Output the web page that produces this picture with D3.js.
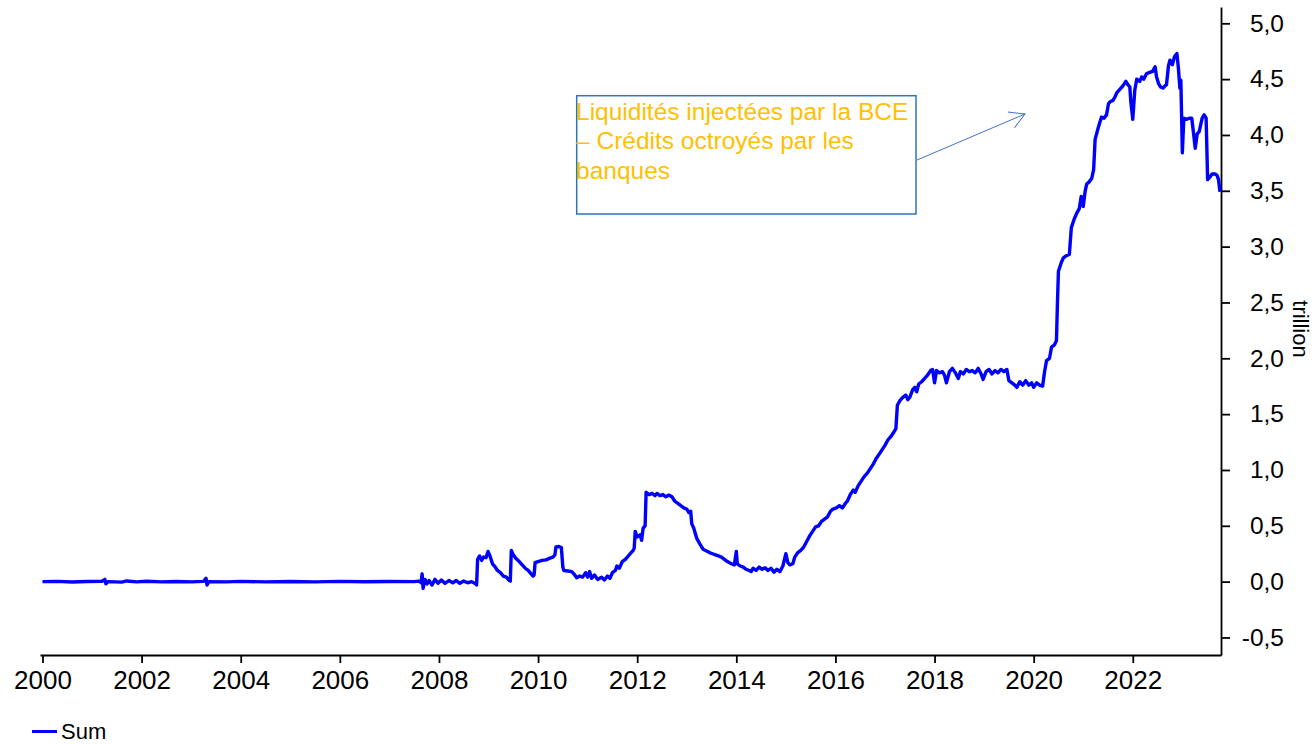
<!DOCTYPE html>
<html>
<head>
<meta charset="utf-8">
<script src="https://cdn.jsdelivr.net/npm/d3@7"></script>
<style>
  body { margin: 0; background: #fff; }
  svg { display: block; font-family: "Liberation Sans", Arial, sans-serif; }
</style>
</head>
<body>
<div id="chart"></div>
<script>
// Sum, trillion as [decimal year, value]
const sumSeries = [
  [2000.00, 0.000], [2000.30, 0.002], [2000.60, -0.003], [2000.90, 0.001],
  [2001.20, 0.003], [2001.26, 0.020], [2001.28, -0.020], [2001.32, 0.000],
  [2001.60, -0.004], [2001.70, 0.006], [2001.90, -0.002], [2002.10, 0.004],
  [2002.40, -0.002], [2002.70, 0.001], [2003.00, -0.002], [2003.25, 0.002],
  [2003.30, 0.030], [2003.32, -0.030], [2003.36, 0.000], [2003.70, -0.002],
  [2004.00, 0.002], [2004.50, -0.002], [2005.00, 0.001], [2005.50, -0.002],
  [2006.00, 0.002], [2006.50, -0.001], [2007.00, 0.001], [2007.50, 0.000],
  [2007.60, 0.005], [2007.64, -0.010], [2007.66, 0.070], [2007.68, -0.060],
  [2007.72, 0.020], [2007.76, -0.020], [2007.80, 0.010], [2007.86, -0.030],
  [2007.92, 0.020], [2007.98, -0.015], [2008.05, 0.015], [2008.12, -0.015],
  [2008.20, 0.010], [2008.28, -0.010], [2008.35, 0.010], [2008.42, -0.015],
  [2008.50, 0.005], [2008.58, -0.010], [2008.66, 0.000], [2008.74, -0.020],
  [2008.76, -0.030], [2008.78, 0.200], [2008.82, 0.230], [2008.86, 0.190],
  [2008.90, 0.220], [2008.95, 0.215], [2008.99, 0.270], [2009.03, 0.230],
  [2009.08, 0.160], [2009.13, 0.135], [2009.18, 0.100], [2009.24, 0.080],
  [2009.30, 0.050], [2009.36, 0.040], [2009.42, 0.010], [2009.44, 0.005],
  [2009.46, 0.280], [2009.50, 0.240], [2009.55, 0.210], [2009.62, 0.180],
  [2009.68, 0.150], [2009.74, 0.120], [2009.80, 0.100], [2009.86, 0.070],
  [2009.90, 0.050], [2009.92, 0.060], [2009.94, 0.170], [2010.00, 0.180],
  [2010.08, 0.190], [2010.16, 0.195], [2010.24, 0.210], [2010.30, 0.220],
  [2010.34, 0.240], [2010.36, 0.310], [2010.42, 0.315], [2010.47, 0.305],
  [2010.50, 0.130], [2010.52, 0.100], [2010.60, 0.095], [2010.68, 0.090],
  [2010.74, 0.060], [2010.78, 0.035], [2010.84, 0.050], [2010.90, 0.040],
  [2010.96, 0.080], [2011.00, 0.040], [2011.04, 0.090], [2011.08, 0.030],
  [2011.14, 0.060], [2011.20, 0.020], [2011.28, 0.040], [2011.34, 0.015],
  [2011.40, 0.050], [2011.45, 0.030], [2011.50, 0.080], [2011.56, 0.100],
  [2011.59, 0.140], [2011.64, 0.120], [2011.70, 0.180], [2011.76, 0.200],
  [2011.80, 0.220], [2011.86, 0.250], [2011.92, 0.280], [2011.94, 0.300],
  [2011.96, 0.450], [2012.00, 0.400], [2012.06, 0.420], [2012.09, 0.370],
  [2012.12, 0.480], [2012.16, 0.500], [2012.18, 0.800], [2012.24, 0.780],
  [2012.30, 0.790], [2012.36, 0.770], [2012.40, 0.790], [2012.46, 0.770],
  [2012.52, 0.780], [2012.58, 0.760], [2012.64, 0.775], [2012.70, 0.760],
  [2012.76, 0.720], [2012.82, 0.700], [2012.88, 0.680], [2012.94, 0.660],
  [2013.00, 0.650], [2013.04, 0.620], [2013.08, 0.630], [2013.10, 0.520],
  [2013.14, 0.480], [2013.20, 0.390], [2013.26, 0.340], [2013.33, 0.290],
  [2013.40, 0.275], [2013.46, 0.260], [2013.52, 0.250], [2013.58, 0.240],
  [2013.64, 0.230], [2013.70, 0.220], [2013.76, 0.200], [2013.82, 0.180],
  [2013.90, 0.160], [2013.96, 0.150], [2014.00, 0.270], [2014.02, 0.160],
  [2014.08, 0.140], [2014.14, 0.130], [2014.20, 0.110], [2014.26, 0.100],
  [2014.30, 0.090], [2014.34, 0.120], [2014.40, 0.100], [2014.46, 0.130],
  [2014.52, 0.110], [2014.58, 0.125], [2014.64, 0.100], [2014.70, 0.120],
  [2014.76, 0.085], [2014.82, 0.110], [2014.88, 0.090], [2014.94, 0.140],
  [2015.00, 0.250], [2015.04, 0.170], [2015.08, 0.150], [2015.14, 0.160],
  [2015.18, 0.220], [2015.24, 0.260], [2015.30, 0.280], [2015.36, 0.310],
  [2015.42, 0.360], [2015.48, 0.410], [2015.54, 0.450], [2015.60, 0.490],
  [2015.66, 0.500], [2015.72, 0.540], [2015.78, 0.560], [2015.84, 0.580],
  [2015.90, 0.630], [2015.95, 0.650], [2016.02, 0.660], [2016.08, 0.680],
  [2016.14, 0.660], [2016.20, 0.700], [2016.24, 0.720], [2016.30, 0.780],
  [2016.36, 0.820], [2016.40, 0.800], [2016.46, 0.860], [2016.52, 0.900],
  [2016.58, 0.940], [2016.64, 0.970], [2016.70, 1.010], [2016.76, 1.050],
  [2016.82, 1.100], [2016.88, 1.140], [2016.94, 1.180], [2017.00, 1.220],
  [2017.06, 1.270], [2017.12, 1.300], [2017.18, 1.340], [2017.22, 1.370],
  [2017.25, 1.580], [2017.30, 1.620], [2017.36, 1.650], [2017.42, 1.670],
  [2017.46, 1.630], [2017.50, 1.650], [2017.56, 1.720], [2017.60, 1.740],
  [2017.64, 1.700], [2017.68, 1.770], [2017.74, 1.790], [2017.80, 1.820],
  [2017.86, 1.850], [2017.92, 1.890], [2017.96, 1.900], [2018.00, 1.780],
  [2018.04, 1.890], [2018.10, 1.870], [2018.16, 1.880], [2018.20, 1.850],
  [2018.24, 1.780], [2018.30, 1.880], [2018.36, 1.910], [2018.42, 1.870],
  [2018.48, 1.820], [2018.52, 1.880], [2018.58, 1.860], [2018.64, 1.900],
  [2018.70, 1.880], [2018.76, 1.890], [2018.82, 1.870], [2018.88, 1.910],
  [2018.94, 1.860], [2018.98, 1.810], [2019.04, 1.880], [2019.10, 1.900],
  [2019.16, 1.860], [2019.22, 1.890], [2019.28, 1.870], [2019.34, 1.900],
  [2019.40, 1.880], [2019.46, 1.900], [2019.50, 1.800], [2019.56, 1.780],
  [2019.62, 1.760], [2019.66, 1.740], [2019.72, 1.790], [2019.78, 1.760],
  [2019.84, 1.800], [2019.90, 1.760], [2019.96, 1.780], [2020.00, 1.740],
  [2020.06, 1.780], [2020.12, 1.760], [2020.18, 1.750], [2020.22, 1.880],
  [2020.26, 1.980], [2020.32, 2.000], [2020.36, 2.100], [2020.42, 2.120],
  [2020.46, 2.160], [2020.48, 2.500], [2020.50, 2.780], [2020.56, 2.860],
  [2020.60, 2.900], [2020.66, 2.920], [2020.72, 2.930], [2020.76, 3.170],
  [2020.82, 3.250], [2020.87, 3.300], [2020.92, 3.340], [2020.96, 3.450],
  [2021.00, 3.360], [2021.04, 3.500], [2021.07, 3.560], [2021.12, 3.580],
  [2021.17, 3.610], [2021.21, 3.690], [2021.24, 3.960], [2021.30, 4.060],
  [2021.34, 4.120], [2021.37, 4.160], [2021.42, 4.150], [2021.47, 4.180],
  [2021.51, 4.280], [2021.55, 4.300], [2021.60, 4.310], [2021.64, 4.340],
  [2021.68, 4.380], [2021.72, 4.400], [2021.76, 4.420], [2021.80, 4.440],
  [2021.86, 4.480], [2021.90, 4.450], [2021.94, 4.430], [2021.96, 4.300],
  [2022.00, 4.140], [2022.04, 4.400], [2022.08, 4.500], [2022.14, 4.480],
  [2022.18, 4.520], [2022.22, 4.500], [2022.28, 4.550], [2022.34, 4.560],
  [2022.40, 4.570], [2022.45, 4.610], [2022.48, 4.520], [2022.52, 4.460],
  [2022.56, 4.430], [2022.61, 4.420], [2022.65, 4.440], [2022.68, 4.450],
  [2022.72, 4.620], [2022.75, 4.670], [2022.80, 4.630], [2022.84, 4.700],
  [2022.89, 4.730], [2022.92, 4.600], [2022.95, 4.420], [2022.97, 4.490],
  [2023.00, 3.840], [2023.03, 4.150], [2023.08, 4.140], [2023.14, 4.150],
  [2023.19, 4.150], [2023.23, 4.000], [2023.26, 3.880], [2023.30, 4.010],
  [2023.34, 4.030], [2023.40, 4.150], [2023.44, 4.180], [2023.48, 4.150],
  [2023.51, 3.600], [2023.55, 3.620], [2023.60, 3.650], [2023.66, 3.650],
  [2023.70, 3.640], [2023.73, 3.600], [2023.76, 3.490]
];

const xTickYears = [2000, 2002, 2004, 2006, 2008, 2010, 2012, 2014, 2016, 2018, 2020, 2022];
const yTicks = [-0.5, 0, 0.5, 1, 1.5, 2, 2.5, 3, 3.5, 4, 4.5, 5];
const annotationLines = ["Liquidités injectées par la BCE", "– Crédits octroyés par les", "banques"];
const unitLabel = "trillion";
const seriesName = "Sum";

const width = 1315;
const height = 744;
const plot = { left: 40, right: 1221, top: 7, bottom: 655 };

const svg = d3
  .select("#chart")
  .append("svg")
  .attr("width", width)
  .attr("height", height);

const x = d3.scaleLinear().domain([1999.95, 2023.78]).range([plot.left, plot.right]);
const y = d3.scaleLinear().domain([-0.657, 5.146]).range([plot.bottom, plot.top]);

// comma as decimal separator, plain hyphen for negatives
const fmt = (v) => d3.format(".1f")(v).replace(".", ",").replace("\u2212", "-");

// x axis
const xAxis = svg
  .append("g")
  .attr("transform", `translate(0,${plot.bottom})`)
  .call(
    d3.axisBottom(x)
      .tickValues(xTickYears)
      .tickFormat((d) => String(d))
      .tickSize(8)
      .tickSizeOuter(0)
  );
xAxis.selectAll("path, line").attr("stroke", "#000").attr("stroke-width", 1.8);
xAxis
  .selectAll("text")
  .attr("y", 16)
  .attr("fill", "#000")
  .style("font-size", "26px");

// y axis on the right
const yAxis = svg
  .append("g")
  .attr("transform", `translate(${plot.right},0)`)
  .call(
    d3.axisRight(y)
      .tickValues(yTicks)
      .tickFormat(fmt)
      .tickSize(9)
      .tickSizeOuter(0)
  );
yAxis.selectAll("path, line").attr("stroke", "#000").attr("stroke-width", 1.8);
yAxis
  .selectAll("text")
  .attr("x", 63)
  .attr("text-anchor", "end")
  .attr("fill", "#000")
  .style("font-size", "24.5px");

svg
  .append("text")
  .attr("transform", "translate(1293,329) rotate(90)")
  .attr("text-anchor", "middle")
  .attr("fill", "#000")
  .style("font-size", "22px")
  .text(unitLabel);

// the series
const line = d3
  .line()
  .x((d) => x(d[0]))
  .y((d) => y(d[1]));

svg
  .append("path")
  .datum(sumSeries)
  .attr("fill", "none")
  .attr("stroke", "#0000ff")
  .attr("stroke-width", 3.4)
  .attr("stroke-linejoin", "round")
  .attr("d", line);

// annotation box + arrow
svg
  .append("defs")
  .append("marker")
  .attr("id", "arrow")
  .attr("viewBox", "0 -10 20 20")
  .attr("refX", 17)
  .attr("refY", 0)
  .attr("markerUnits", "userSpaceOnUse")
  .attr("markerWidth", 20)
  .attr("markerHeight", 20)
  .attr("orient", "auto")
  .append("path")
  .attr("d", "M2,-8.5L17,0L2,8.5")
  .attr("fill", "none")
  .attr("stroke", "#4472c4")
  .attr("stroke-width", 1);

svg
  .append("rect")
  .attr("x", 576.7)
  .attr("y", 95.7)
  .attr("width", 339.3)
  .attr("height", 118.3)
  .attr("fill", "#fff")
  .attr("stroke", "#2e75b6")
  .attr("stroke-width", 1.5);

svg
  .append("line")
  .attr("x1", 917)
  .attr("y1", 160)
  .attr("x2", 1025)
  .attr("y2", 114)
  .attr("stroke", "#4472c4")
  .attr("stroke-width", 1)
  .attr("marker-end", "url(#arrow)");

svg
  .append("text")
  .attr("fill", "#ffc000")
  .style("font-size", "24.5px")
  .selectAll("tspan")
  .data(annotationLines)
  .join("tspan")
  .attr("x", 576)
  .attr("y", (d, i) => 119.5 + i * 29.5)
  .text((d) => d);

// legend
svg
  .append("line")
  .attr("x1", 32)
  .attr("x2", 57)
  .attr("y1", 731.5)
  .attr("y2", 731.5)
  .attr("stroke", "#0000ff")
  .attr("stroke-width", 3);

svg
  .append("text")
  .attr("x", 61)
  .attr("y", 738.5)
  .attr("fill", "#000")
  .style("font-size", "22px")
  .text(seriesName);
</script>
</body>
</html>
